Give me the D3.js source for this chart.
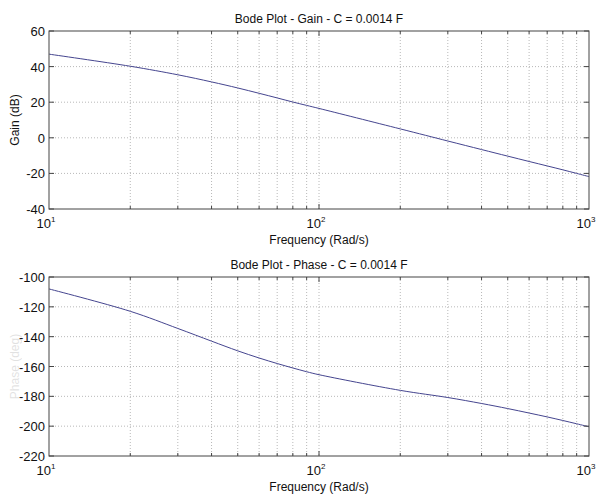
<!DOCTYPE html>
<html>
<head>
<meta charset="utf-8">
<script src="https://cdn.jsdelivr.net/npm/d3@7"></script>
<style>
  body { margin: 0; background: #fff; }
  text { font-family: "Liberation Sans", Arial, sans-serif; fill: #111; }
</style>
</head>
<body>
<div id="chart"></div>
<script>
// frequencies (rad/s)
var freq = [10, 20, 30, 40, 50, 60, 70, 80, 90, 100, 200, 300, 400, 500, 600, 700, 800, 900, 1000];
// gain in dB
var gain = [47, 40.2, 35.4, 31.4, 28, 25, 22.4, 20.1, 18.2, 16.5, 5, -1.8, -6.6, -10.3, -13.3, -15.8, -18, -20, -21.8];
// phase in degrees
var phase = [-108, -123, -134.5, -143, -149.5, -154.3, -158, -161, -163.5, -165.5, -176, -180.8, -184.8, -188.2, -191.2, -193.8, -196.2, -198.4, -200.4];

var gainTicks = [-40, -20, 0, 20, 40, 60];
var phaseTicks = [-220, -200, -180, -160, -140, -120, -100];
var decades = [1, 2, 3];

var W = 603, H = 495;
var svg = d3.select("#chart").append("svg")
  .attr("width", W).attr("height", H);

function panel(opt) {
  var x = d3.scaleLog().domain([10, 1000]).range([49, 589]);
  var y = d3.scaleLinear().domain(d3.extent(opt.ticks)).range([opt.bottom, opt.top]);
  var g = svg.append("g");

  // minor frequency values
  var minor = [];
  [10, 100].forEach(function (b) { for (var k = 2; k <= 9; k++) minor.push(b * k); });

  // grid
  g.selectAll(".vg").data(minor.concat([100])).enter().append("line")
    .attr("x1", d => x(d)).attr("x2", d => x(d))
    .attr("y1", opt.top).attr("y2", opt.bottom)
    .attr("stroke", "#b8b8b8").attr("stroke-width", 1).attr("stroke-dasharray", "1,2");
  g.selectAll(".hg").data(opt.ticks.slice(1, -1)).enter().append("line")
    .attr("x1", 49).attr("x2", 589)
    .attr("y1", d => y(d)).attr("y2", d => y(d))
    .attr("stroke", "#b8b8b8").attr("stroke-width", 1).attr("stroke-dasharray", "1,2");

  // curve
  var line = d3.line().x((d, i) => x(freq[i])).y(d => y(d)).curve(d3.curveCatmullRom);
  g.append("path").datum(opt.values)
    .attr("d", line).attr("fill", "none")
    .attr("stroke", "#45458f").attr("stroke-width", 1);

  // box
  g.append("rect").attr("x", 49).attr("y", opt.top)
    .attr("width", 540).attr("height", opt.bottom - opt.top)
    .attr("fill", "none").attr("stroke", "#444").attr("stroke-width", 1);

  // ticks inside
  var tk = g.append("g").attr("stroke", "#444");
  opt.ticks.forEach(function (t) {
    tk.append("line").attr("x1", 49).attr("x2", 54).attr("y1", y(t)).attr("y2", y(t));
    tk.append("line").attr("x1", 584).attr("x2", 589).attr("y1", y(t)).attr("y2", y(t));
  });
  minor.concat([100]).forEach(function (f) {
    var len = f === 100 ? 5 : 3;
    tk.append("line").attr("x1", x(f)).attr("x2", x(f)).attr("y1", opt.top).attr("y2", opt.top + len);
    tk.append("line").attr("x1", x(f)).attr("x2", x(f)).attr("y1", opt.bottom).attr("y2", opt.bottom - len);
  });

  // y tick labels
  g.selectAll(".yl").data(opt.ticks).enter().append("text")
    .attr("x", 45).attr("y", d => y(d) + 5)
    .attr("text-anchor", "end").attr("font-size", 13)
    .text(d => d);

  // x tick labels 10^n
  decades.forEach(function (p) {
    var t = g.append("text").attr("x", x(Math.pow(10, p)) - 3).attr("y", opt.bottom + 19)
      .attr("text-anchor", "middle").attr("font-size", 13);
    t.append("tspan").text("10");
    t.append("tspan").attr("dy", -6).attr("font-size", 8).text(p);
  });

  // titles
  g.append("text").attr("x", 319).attr("y", opt.top - 8)
    .attr("text-anchor", "middle").attr("font-size", 12).text(opt.title);
  g.append("text").attr("x", 319).attr("y", opt.bottom + 35)
    .attr("text-anchor", "middle").attr("font-size", 12).text("Frequency (Rad/s)");
  g.append("text")
    .attr("transform", "translate(19," + ((opt.top + opt.bottom) / 2) + ") rotate(-90)")
    .attr("text-anchor", "middle").attr("font-size", 12)
    .attr("opacity", opt.labelOpacity)
    .text(opt.ylabel);
}

panel({ top: 31, bottom: 209, ticks: gainTicks, values: gain,
        title: "Bode Plot - Gain - C = 0.0014 F", ylabel: "Gain (dB)", labelOpacity: 1 });
panel({ top: 277, bottom: 456, ticks: phaseTicks, values: phase,
        title: "Bode Plot - Phase - C = 0.0014 F", ylabel: "Phase (deg)", labelOpacity: 0.12 });
</script>
</body>
</html>
